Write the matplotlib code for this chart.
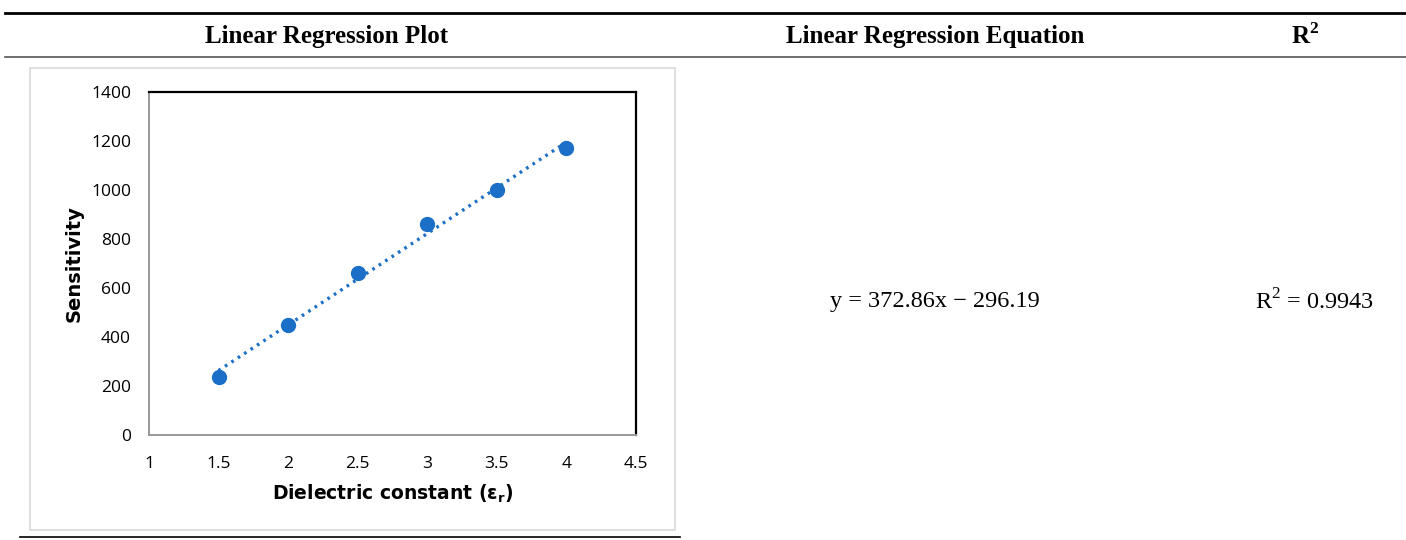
import matplotlib.pyplot as plt
import numpy as np
from matplotlib.lines import Line2D
from matplotlib.patches import Rectangle

# measured sensitivity vs dielectric constant
eps_r = [1.5, 2.0, 2.5, 3.0, 3.5, 4.0]
sensitivity = [235, 450, 660, 860, 1000, 1170]

# fitted line reported in the table
slope = 372.86
intercept = -296.19
r_squared = 0.9943

headers = ['Linear Regression Plot', 'Linear Regression Equation', 'R$^\\mathregular{2}$']
x_ticks = [1, 1.5, 2, 2.5, 3, 3.5, 4, 4.5]
y_ticks = [0, 200, 400, 600, 800, 1000, 1200, 1400]

W, H = 1406, 540
blue = '#1b6fc6'
serif = 'Liberation Serif'

fig = plt.figure(figsize=(W / 100, H / 100), dpi=100)

def px(x, y):
    # pixel position (from top-left) -> figure fraction
    return x / W, 1 - y / H

def hline(y, x0, x1, lw, color):
    a, b = px(x0, y)
    c, _ = px(x1, y)
    fig.add_artist(Line2D([a, c], [b, b], lw=lw, color=color, transform=fig.transFigure))

# table rules
hline(13, 5, 1406, 2.0, 'black')
hline(57, 5, 1406, 1.2, '#555555')
hline(537, 20, 680, 1.2, 'black')

# header row
for text, xc in zip(headers, [327, 935, 1305]):
    fig.text(*px(xc, 36), text, ha='center', va='center', fontsize=18,
             fontweight='bold', family=serif)

# equation and R2 cells
eq = f'y = {slope:.2f}x \u2212 {abs(intercept):.2f}'
fig.text(*px(935, 302), eq, ha='center', va='center', fontsize=17.5, family=serif)
fig.text(*px(1315, 302), f'R$^\\mathregular{{2}}$ = {r_squared:.4f}', ha='center',
         va='center', fontsize=17.5, family=serif)

# light frame around the chart
x0, y0 = px(30, 530)
x1, y1 = px(675, 68)
fig.add_artist(Rectangle((x0, y0), x1 - x0, y1 - y0, transform=fig.transFigure,
                         fill=False, edgecolor='#d9d9d9', lw=1.2))

# plot area
l, b = px(149, 435)
r, t = px(636, 92)
ax = fig.add_axes([l, b, r - l, t - b])
ax.scatter(eps_r, sensitivity, s=100, color=blue, zorder=3)
xf = np.array([eps_r[0], eps_r[-1]])
ax.plot(xf, slope * xf + intercept, color=blue, lw=2.4, linestyle=(0, (0.8, 1.5)), zorder=2)

ax.set_xlim(1, 4.5)
ax.set_ylim(0, 1400)
ax.set_xticks(x_ticks)
ax.set_xticklabels([f'{v:g}' for v in x_ticks])
ax.set_yticks(y_ticks)
ax.tick_params(axis='y', length=0, labelsize=12.5, pad=13)
ax.tick_params(axis='x', length=0, labelsize=12.5, pad=15)
for lab in ax.get_xticklabels() + ax.get_yticklabels():
    lab.set_family('Open Sans')
for s in ['top', 'right']:
    ax.spines[s].set_color('black')
    ax.spines[s].set_linewidth(1.6)
for s in ['left', 'bottom']:
    ax.spines[s].set_color('#999999')
    ax.spines[s].set_linewidth(1.4)

ax.set_ylabel('Sensitivity', fontsize=14, fontweight='bold', labelpad=5)
ax.set_xlabel('Dielectric constant (\u03b5$_\\mathregular{r}$)', fontsize=13.5,
              fontweight='bold', labelpad=8)

fig.savefig('out.png', dpi=100)
